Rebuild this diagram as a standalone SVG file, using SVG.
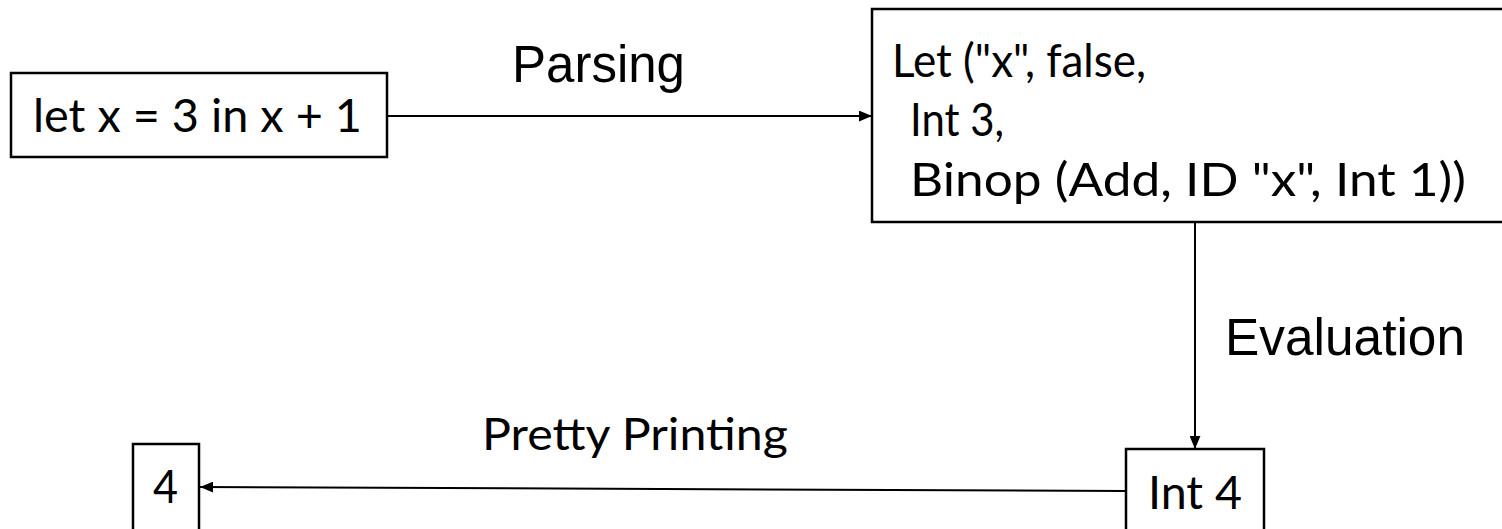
<svg xmlns="http://www.w3.org/2000/svg" width="1502" height="529" viewBox="0 0 1502 529">
<style>
.box{fill:#fff;stroke:#000;stroke-width:2.5}
.cal{font-family:Lato,"Open Sans","Liberation Sans",sans-serif;font-size:47px;fill:#000}
.ar{font-family:"Liberation Sans",Arial,sans-serif;font-size:51px;fill:#000}
.conn{stroke:#000;stroke-width:2;fill:none;marker-end:url(#arr)}
</style>
<defs>
<marker id="arr" viewBox="0 0 12 10" refX="12" refY="5" markerWidth="13" markerHeight="11" markerUnits="userSpaceOnUse" orient="auto">
<path d="M0,0 L12,5 L0,10 z" fill="#000"/>
</marker>
</defs>
<rect width="1502" height="529" fill="#fff"/>
<g id="connectors">
<line class="conn" x1="387" y1="116" x2="872" y2="116"/>
<line class="conn" x1="1195" y1="222" x2="1195" y2="449"/>
<line class="conn" x1="1126" y1="491" x2="200" y2="487"/>
</g>
<g id="source">
<rect class="box" x="11" y="73" width="376" height="84"/>
<text class="cal" x="33" y="132" textLength="329" lengthAdjust="spacingAndGlyphs">let x = 3 in x + 1</text>
</g>
<g id="ast">
<rect class="box" x="872" y="9" width="640" height="213"/>
<text class="cal" x="892" y="77" textLength="254" lengthAdjust="spacingAndGlyphs">Let ("x", false,</text>
<text class="cal" x="910" y="136" textLength="94" lengthAdjust="spacingAndGlyphs">Int 3,</text>
<text class="cal" x="910" y="196" textLength="556" lengthAdjust="spacingAndGlyphs">Binop (Add, ID "x", Int 1))</text>
</g>
<g id="value">
<rect class="box" x="1126" y="449" width="138" height="90"/>
<text class="cal" x="1148" y="509" textLength="94" lengthAdjust="spacingAndGlyphs">Int 4</text>
</g>
<g id="output">
<rect class="box" x="133" y="444" width="66" height="95"/>
<text class="cal" x="153" y="503" textLength="25" lengthAdjust="spacingAndGlyphs">4</text>
</g>
<g id="labels">
<text class="ar" x="512" y="82" textLength="173" lengthAdjust="spacingAndGlyphs">Parsing</text>
<text class="ar" x="1225" y="355" textLength="240" lengthAdjust="spacingAndGlyphs">Evaluation</text>
<text class="cal" x="482" y="450" style="font-size:45px" textLength="306" lengthAdjust="spacingAndGlyphs">Pretty Printing</text>
</g>
</svg>
